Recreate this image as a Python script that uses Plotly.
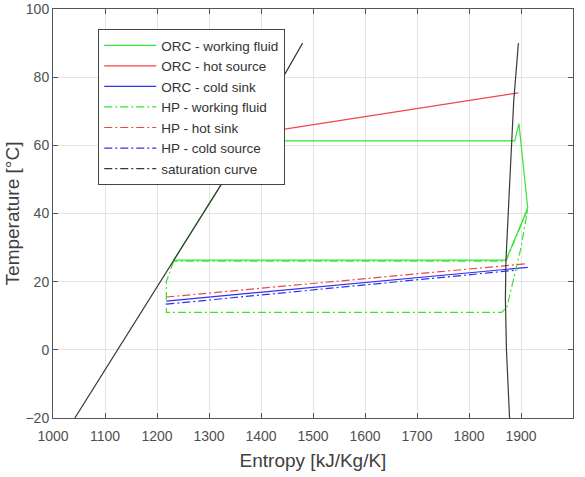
import plotly.graph_objects as go

# ---- data (entropy [kJ/Kg/K], temperature [°C]) ----
orc_wf_s = [1232, 1333, 1372, 1888, 1896, 1913, 1871, 1232]
orc_wf_t = [26.3, 50.8, 61.3, 61.3, 66.4, 41.6, 26.3, 26.3]

orc_hot_s = [1380, 1895]
orc_hot_t = [63.2, 75.4]

orc_cold_s = [1218, 1913]
orc_cold_t = [14.3, 24.2]

hp_wf_s = [1232, 1218, 1218, 1863, 1873, 1899, 1913, 1871, 1232]
hp_wf_t = [26.0, 20.0, 11.0, 11.0, 12.6, 29.3, 41.3, 26.0, 26.0]

hp_hot_s = [1218, 1913]
hp_hot_t = [15.5, 25.3]

hp_cold_s = [1218, 1893]
hp_cold_t = [13.4, 23.4]

sat_s = [1042, 1202, 1333, 1480, None, 1878, 1872, 1870, 1871, 1877, 1883, 1886, 1895]
sat_t = [-20, 19.0, 50.8, 90, None, -20, 0, 15, 26, 45, 62, 73, 90]

x_ticks = [1000, 1100, 1200, 1300, 1400, 1500, 1600, 1700, 1800, 1900, 2000]
y_ticks = [-20, 0, 20, 40, 60, 80, 100]

GREEN = "#33e633"
RED = "#f04545"
BLUE = "#3030f2"
BLACK = "#383838"
DD = "8px,3px,2px,3px"
LW = 1.2
FONT = "Liberation Sans, Arial, sans-serif"

fig = go.Figure()
def add(name, s, t, color, dash, showlegend=True):
    fig.add_trace(go.Scatter(x=s, y=t, mode="lines", name=name,
                             line=dict(color=color, width=LW, dash=dash),
                             connectgaps=False, showlegend=showlegend))

add("ORC - working fluid", orc_wf_s, orc_wf_t, GREEN, "solid")
add("ORC - hot source", orc_hot_s, orc_hot_t, RED, "solid")
add("ORC - cold sink", orc_cold_s, orc_cold_t, BLUE, "solid")
add("HP - working fluid", hp_wf_s, hp_wf_t, GREEN, DD)
add("HP - hot sink", hp_hot_s, hp_hot_t, RED, DD)
add("HP - cold source", hp_cold_s, hp_cold_t, BLUE, DD)
# legend entry of the saturation curve (dash-dot sample), curve itself drawn solid
fig.add_trace(go.Scatter(x=[None], y=[None], mode="lines", name="saturation curve",
                         line=dict(color=BLACK, width=LW, dash=DD)))
add("saturation curve", sat_s, sat_t, BLACK, "solid", showlegend=False)

axis_common = dict(
    showline=True, linecolor="#555555", linewidth=1, mirror="ticks",
    ticks="inside", ticklen=5, tickcolor="#555555",
    showgrid=True, gridcolor="#e4e4e4", gridwidth=1, zeroline=False,
    automargin=False,
    tickfont=dict(family=FONT, size=14, color="#505050"),
)

fig.update_layout(
    width=585, height=477,
    margin=dict(l=53, r=12, t=9, b=59),
    paper_bgcolor="white", plot_bgcolor="white",
    font=dict(family=FONT, color="#404040"),
    xaxis=dict(range=[1000, 2000], tickvals=x_ticks, ticklabelstandoff=5,
               title=dict(text="Entropy [kJ/Kg/K]", font=dict(size=19, color="#404040"), standoff=10),
               **axis_common),
    yaxis=dict(range=[-20, 100], tickvals=y_ticks,
               title=dict(text="Temperature [°C]", font=dict(size=19, color="#404040"), standoff=0),
               **axis_common),
    legend=dict(x=0.087, y=0.951, xanchor="left", yanchor="top",
                bgcolor="white", bordercolor="#444444", borderwidth=1,
                font=dict(family=FONT, size=13.5, color="#333333"),
                tracegroupgap=0, itemwidth=52),
    showlegend=True,
)

fig.write_html("out.html")
